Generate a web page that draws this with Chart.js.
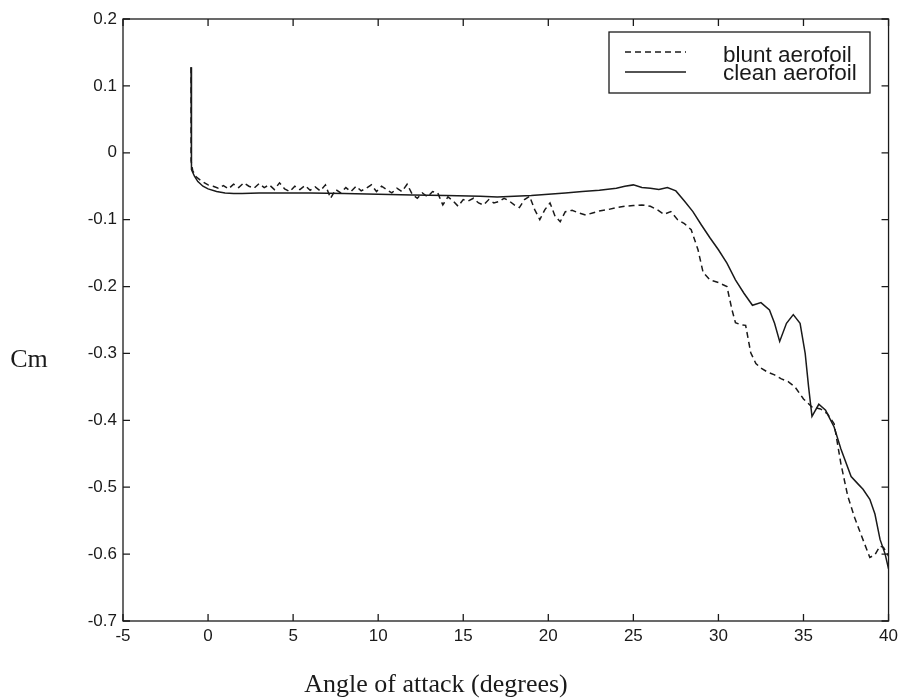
<!DOCTYPE html>
<html>
<head>
  <title>Cm vs angle of attack</title>
  <script src="https://cdn.jsdelivr.net/npm/chart.js"></script>
  <style>
    body { margin: 0; background: #fff; }
  </style>
</head>
<body>
  <canvas id="cmChart" width="903" height="699"></canvas>

  <script>
    // clean aerofoil (solid line)
    const cleanAngle = [-1, -1, -0.95, -0.8, -0.6, -0.3, 0, 0.5, 1, 1.5, 2, 3, 4, 6, 8, 10, 12, 14, 16, 17, 18, 19, 20, 21, 22, 23, 24,
      24.5, 25, 25.5, 26, 26.5, 27, 27.5, 28, 28.5, 29, 29.5, 30, 30.5, 31, 31.5, 32, 32.5, 33, 33.3, 33.6, 34, 34.4, 34.8,
      35.1, 35.3, 35.5, 35.9, 36.3, 36.8, 37.2, 37.8, 38.2, 38.5, 38.9, 39.2, 39.5, 39.8, 40];
    const cleanCm = [0.128, -0.01, -0.025, -0.035, -0.043, -0.05, -0.054, -0.058, -0.06, -0.061, -0.061, -0.06, -0.06, -0.06, -0.061, -0.062, -0.063, -0.064, -0.065, -0.066, -0.065, -0.064, -0.062, -0.06, -0.058, -0.056, -0.053,
      -0.05, -0.048, -0.052, -0.053, -0.055, -0.052, -0.057, -0.072, -0.088, -0.108, -0.127, -0.145, -0.165, -0.19, -0.21, -0.228, -0.224, -0.235, -0.255, -0.282, -0.255, -0.242, -0.255,
      -0.3, -0.35, -0.394, -0.376, -0.385, -0.41, -0.443, -0.484, -0.495, -0.503, -0.518, -0.54, -0.578, -0.6, -0.622];

    // blunt aerofoil (dashed line)
    const bluntAngle = [-1, -1, -0.9, -0.7, -0.4, 0, 0.3, 0.6, 0.9, 1.2, 1.5, 1.8, 2.1, 2.4, 2.7, 3.0, 3.3, 3.6, 3.9, 4.2, 4.5, 4.8,
      5.1, 5.4, 5.7, 6.0, 6.3, 6.6, 6.9, 7.2, 7.5, 7.8, 8.1, 8.4, 8.7, 9.0, 9.3, 9.6, 9.9,
      10.2, 10.5, 10.8, 11.1, 11.4, 11.7, 12.0, 12.3, 12.6, 12.9, 13.2, 13.5, 13.8, 14.1, 14.4, 14.7,
      15.0, 15.3, 15.6, 15.9, 16.2, 16.5, 16.8, 17.1, 17.4, 17.7, 18.0, 18.3, 18.6, 18.9, 19.2, 19.5, 19.8,
      20.1, 20.4, 20.7, 21.0, 21.4, 21.8, 22.2, 22.6, 23.0, 23.5, 24.0, 24.5, 25.0, 25.5, 26.0, 26.4, 26.8, 27.2, 27.6, 28.0, 28.4, 28.8, 29.1, 29.5,
      30.0, 30.5, 30.8, 31.0, 31.3, 31.6, 31.9, 32.2, 32.5, 32.9, 33.3, 33.7, 34.1, 34.5,
      35.0, 35.5, 36.0, 36.4, 36.8, 37.2, 37.6, 38.0, 38.4, 38.9, 39.2, 39.5, 39.7, 40];
    const bluntCm = [0.128, -0.012, -0.027, -0.036, -0.042, -0.048, -0.05, -0.053, -0.049, -0.054, -0.047, -0.052, -0.045, -0.05, -0.053, -0.046, -0.052, -0.048, -0.055, -0.045, -0.054, -0.058,
      -0.05, -0.055, -0.049, -0.056, -0.051, -0.057, -0.048, -0.068, -0.055, -0.06, -0.052, -0.058, -0.05, -0.057, -0.053, -0.048, -0.058,
      -0.05, -0.055, -0.06, -0.053, -0.058, -0.047, -0.062, -0.068, -0.06, -0.066, -0.058, -0.06, -0.078, -0.066, -0.072, -0.08,
      -0.07, -0.072, -0.068, -0.075, -0.078, -0.07, -0.075, -0.073, -0.068, -0.072, -0.078, -0.082, -0.07, -0.065, -0.085, -0.1, -0.085,
      -0.075, -0.095, -0.103, -0.088, -0.086, -0.09, -0.093, -0.09, -0.087, -0.085, -0.082, -0.08, -0.079, -0.078, -0.08, -0.085, -0.092, -0.088, -0.1, -0.106, -0.115, -0.145, -0.179, -0.19,
      -0.194, -0.2, -0.235, -0.254, -0.257, -0.258, -0.299, -0.315, -0.322, -0.328, -0.332, -0.338, -0.342, -0.35,
      -0.368, -0.38, -0.383, -0.39, -0.405, -0.465, -0.513, -0.545, -0.572, -0.605, -0.601, -0.588, -0.59, -0.603];

    const xTicks = [-5, 0, 5, 10, 15, 20, 25, 30, 35, 40];
    const yTicks = [0.2, 0.1, 0, -0.1, -0.2, -0.3, -0.4, -0.5, -0.6, -0.7];

    const toPoints = (xs, ys) => xs.map((x, i) => ({ x: x, y: ys[i] }));
    const ink = '#1a1a1a';
    const sans = '"Liberation Sans", Arial, sans-serif';

    // box, inward ticks, axis labels and legend like the matlab figure
    const matlabLook = {
      id: 'matlabLook',
      afterDraw(chart) {
        const c = chart.ctx;
        const a = chart.chartArea;
        const xs = chart.scales.x, ys = chart.scales.y;
        const t = 7;
        c.save();
        c.strokeStyle = ink;
        c.lineWidth = 1.3;
        c.strokeRect(a.left, a.top, a.right - a.left, a.bottom - a.top);
        c.beginPath();
        xTicks.forEach(v => {
          const px = xs.getPixelForValue(v);
          c.moveTo(px, a.bottom); c.lineTo(px, a.bottom - t);
          c.moveTo(px, a.top); c.lineTo(px, a.top + t);
        });
        yTicks.forEach(v => {
          const py = ys.getPixelForValue(v);
          c.moveTo(a.left, py); c.lineTo(a.left + t, py);
          c.moveTo(a.right, py); c.lineTo(a.right - t, py);
        });
        c.stroke();

        // axis titles
        c.fillStyle = ink;
        c.font = '26px "Liberation Serif", "Times New Roman", serif';
        c.textBaseline = 'alphabetic';
        c.textAlign = 'center';
        c.fillText('Angle of attack (degrees)', 436, 692);
        c.fillText('Cm', 29, 367);

        // legend
        const lx = 609, ly = 32, lw = 261, lh = 61;
        c.fillStyle = '#fff';
        c.fillRect(lx, ly, lw, lh);
        c.lineWidth = 1.3;
        c.strokeRect(lx, ly, lw, lh);
        const rows = [{ y: 52, tb: 62 }, { y: 72, tb: 80 }];
        chart.data.datasets.forEach((ds, i) => {
          c.beginPath();
          c.setLineDash(ds.borderDash || []);
          c.lineWidth = ds.borderWidth;
          c.strokeStyle = ds.borderColor;
          c.moveTo(625, rows[i].y); c.lineTo(686, rows[i].y);
          c.stroke();
          c.setLineDash([]);
          c.fillStyle = ink;
          c.font = '22.5px ' + sans;
          c.textAlign = 'left';
          c.fillText(ds.label, 723, rows[i].tb);
        });
        c.restore();
      }
    };

    const ctx = document.getElementById('cmChart').getContext('2d');

    const cmChart = new Chart(ctx, {
      type: 'scatter',
      data: {
        datasets: [{
          label: 'blunt aerofoil',
          data: toPoints(bluntAngle, bluntCm),
          showLine: true,
          borderColor: ink,
          borderWidth: 1.5,
          borderDash: [6, 4],
          pointRadius: 0,
          tension: 0
        }, {
          label: 'clean aerofoil',
          data: toPoints(cleanAngle, cleanCm),
          showLine: true,
          borderColor: ink,
          borderWidth: 1.5,
          pointRadius: 0,
          tension: 0
        }]
      },
      options: {
        responsive: false,
        animation: false,
        layout: { padding: { left: 0, right: 14, top: 19, bottom: 0 } },
        plugins: {
          legend: { display: false },
          tooltip: { enabled: false }
        },
        scales: {
          x: {
            type: 'linear',
            min: -5,
            max: 40,
            afterBuildTicks: s => { s.ticks = xTicks.map(v => ({ value: v })); },
            afterFit: s => { s.height = 78; },
            grid: { display: false, drawTicks: false },
            border: { display: false },
            ticks: {
              color: ink,
              padding: 5,
              maxRotation: 0,
              font: { family: sans, size: 17 },
              callback: v => String(v)
            }
          },
          y: {
            type: 'linear',
            min: -0.7,
            max: 0.2,
            afterBuildTicks: s => { s.ticks = yTicks.map(v => ({ value: v })); },
            afterFit: s => { s.width = 123; },
            grid: { display: false, drawTicks: false },
            border: { display: false },
            ticks: {
              color: ink,
              padding: 6,
              font: { family: sans, size: 17 },
              callback: v => String(Math.round(v * 10) / 10)
            }
          }
        }
      },
      plugins: [matlabLook]
    });
  </script>
</body>
</html>
